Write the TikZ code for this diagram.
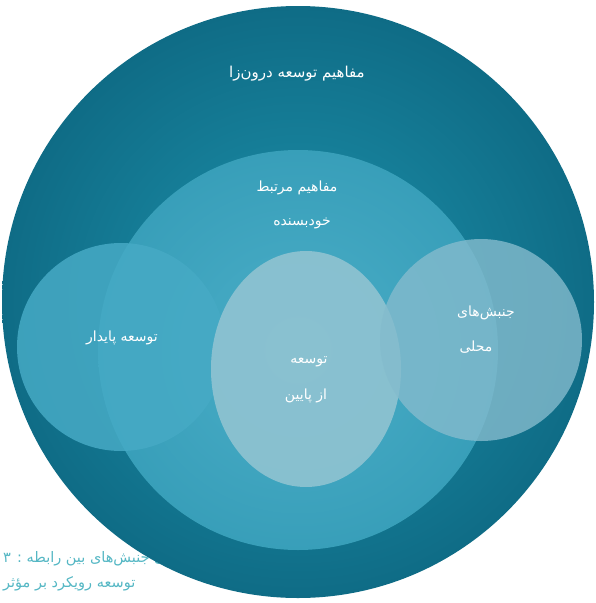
\documentclass[tikz,border=0pt]{standalone}
\usepackage{fontspec}
\TeXXeTstate=1
\newfontfamily\arabicfont[Script=Arabic]{DejaVu Sans}
\usetikzlibrary{shapes.geometric}
\definecolor{outeredge}{HTML}{0F6C86}
\definecolor{outermid}{HTML}{1D92AC}
\definecolor{midblue}{HTML}{3BA7C3}
\definecolor{sideblue}{HTML}{46AAC5}
\definecolor{paleblue}{HTML}{92C4D2}
\definecolor{rightblue}{HTML}{84BBCD}
\definecolor{captiontone}{HTML}{55B7C4}

\begin{document}
\begin{tikzpicture}[x=1pt, y=-1pt,
  bubble/.style={circle, inner sep=0pt},
  patext/.style={text=white, font=\arabicfont\fontsize{14}{16}\selectfont, inner sep=1pt},
  captext/.style={text=captiontone, font=\arabicfont\fontsize{14.5}{22}\selectfont, inner sep=0pt, anchor=west}]
\useasboundingbox (0,0) rectangle (595,603);
% caption of the source page, cut off at the right
\begin{scope}
  \clip (0,540) rectangle (158,603);
  \node[captext] (capa) at (3,559) {\beginR اجتماعی جنبش‌های بین رابطه : ۳\endR};
  \node[captext] (capb) at (3,584) {\beginR توسعه رویکرد بر مؤثر\endR};
\end{scope}
% outer circle: endogenous development
\node[bubble, minimum size=592pt, inner color=outermid, outer color=outeredge] (outer) at (298,302) {};
% middle circle
\node[bubble, minimum size=400pt, inner color=midblue!92!white, outer color=midblue!95!black] (middle) at (298,350) {};
% side and inner circles, see-through where they overlap
\node[bubble, minimum size=208pt, fill=sideblue, fill opacity=0.85] (left) at (121,347) {};
\node[ellipse, inner sep=0pt, minimum width=190pt, minimum height=236pt, fill=paleblue, fill opacity=0.88] (inner) at (306,369) {};
\node[bubble, minimum size=202pt, fill=rightblue, fill opacity=0.8] (right) at (481,340) {};
% labels
\node[patext, font=\arabicfont\fontsize{15}{16}\selectfont] (tOuter) at (297,74) {\beginR مفاهیم توسعه درون‌زا\endR};
\node[patext] (tMidA) at (297,188) {\beginR مفاهیم مرتبط\endR};
\node[patext] (tMidB) at (302,223) {\beginR خودبسنده\endR};
\node[patext] (tLeft) at (122,338) {\beginR توسعه پایدار\endR};
\node[patext] (tInA) at (309,362) {\beginR توسعه\endR};
\node[patext] (tInB) at (306,396) {\beginR از پایین\endR};
\node[patext] (tRightA) at (486,313) {\beginR جنبش‌های\endR};
\node[patext] (tRightB) at (476,347) {\beginR محلی\endR};
\end{tikzpicture}
\end{document}
